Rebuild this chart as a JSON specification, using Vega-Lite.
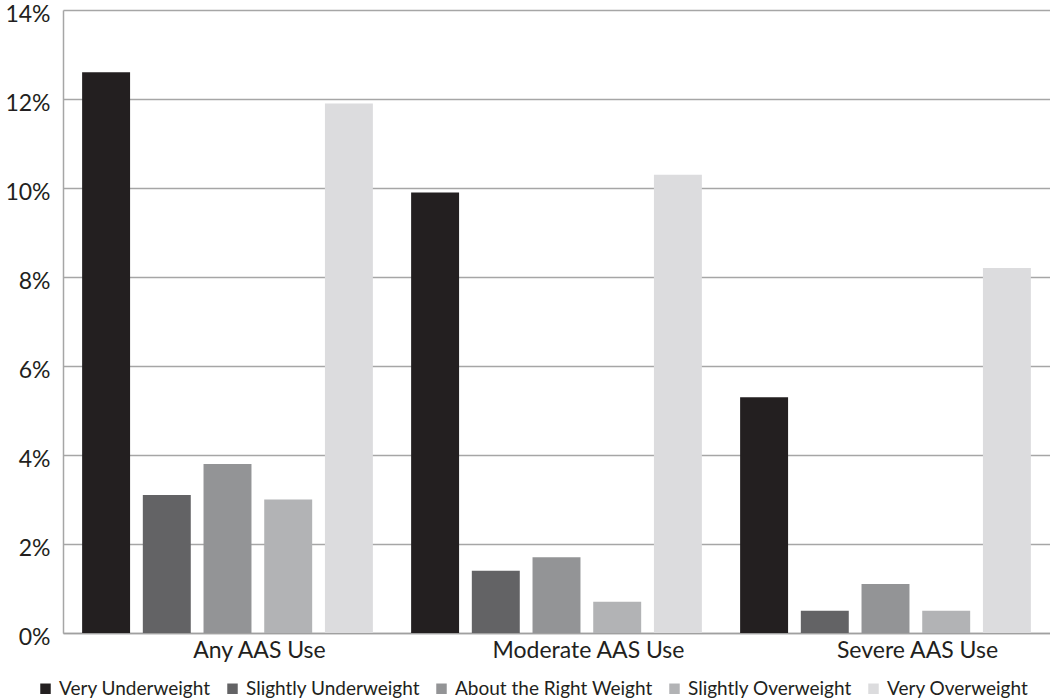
{
  "$schema": "https://vega.github.io/schema/vega-lite/v6.json",
  "width": 987,
  "height": 623,
  "autosize": {"type": "none"},
  "padding": {"left": 63, "top": 10, "right": 0, "bottom": 65},
  "config": {"view": {"stroke": null}, "font": "Lato"},
  "data": {
    "values": [
      {"use": "Any AAS Use", "weight": "Very Underweight", "pct": 12.6},
      {"use": "Any AAS Use", "weight": "Slightly Underweight", "pct": 3.1},
      {"use": "Any AAS Use", "weight": "About the Right Weight", "pct": 3.8},
      {"use": "Any AAS Use", "weight": "Slightly Overweight", "pct": 3.0},
      {"use": "Any AAS Use", "weight": "Very Overweight", "pct": 11.9},
      {"use": "Moderate AAS Use", "weight": "Very Underweight", "pct": 9.9},
      {"use": "Moderate AAS Use", "weight": "Slightly Underweight", "pct": 1.4},
      {"use": "Moderate AAS Use", "weight": "About the Right Weight", "pct": 1.7},
      {"use": "Moderate AAS Use", "weight": "Slightly Overweight", "pct": 0.7},
      {"use": "Moderate AAS Use", "weight": "Very Overweight", "pct": 10.3},
      {"use": "Severe AAS Use", "weight": "Very Underweight", "pct": 5.3},
      {"use": "Severe AAS Use", "weight": "Slightly Underweight", "pct": 0.5},
      {"use": "Severe AAS Use", "weight": "About the Right Weight", "pct": 1.1},
      {"use": "Severe AAS Use", "weight": "Slightly Overweight", "pct": 0.5},
      {"use": "Severe AAS Use", "weight": "Very Overweight", "pct": 8.2}
    ]
  },
  "mark": {"type": "bar"},
  "encoding": {
    "x": {
      "field": "use",
      "type": "nominal",
      "sort": ["Any AAS Use", "Moderate AAS Use", "Severe AAS Use"],
      "scale": {"paddingInner": 0, "paddingOuter": 0},
      "axis": {
        "title": null,
        "labelAngle": 0,
        "labelFontSize": 23,
        "labelLimit": 0,
        "labelColor": "#231f20",
        "ticks": false,
        "domain": true,
        "domainColor": "#a0a0a0",
        "domainWidth": 1.5,
        "labelPadding": 6,
        "labelOffset": 32
      }
    },
    "xOffset": {
      "field": "weight",
      "type": "nominal",
      "sort": ["Very Underweight", "Slightly Underweight", "About the Right Weight", "Slightly Overweight", "Very Overweight"],
      "scale": {"paddingInner": 0.21, "paddingOuter": 0.315}
    },
    "y": {
      "field": "pct",
      "type": "quantitative",
      "scale": {"domain": [0, 14], "nice": false},
      "axis": {
        "title": null,
        "values": [0, 2, 4, 6, 8, 10, 12, 14],
        "labelExpr": "datum.value + '%'",
        "ticks": false,
        "labelPadding": 13,
        "labelOffset": 4,
        "labelFontSize": 23,
        "labelColor": "#231f20",
        "gridColor": "#a6a6a6",
        "gridWidth": 1.5,
        "domainColor": "#a6a6a6",
        "domainWidth": 1.5
      }
    },
    "color": {
      "field": "weight",
      "type": "nominal",
      "scale": {
        "domain": ["Very Underweight", "Slightly Underweight", "About the Right Weight", "Slightly Overweight", "Very Overweight"],
        "range": ["#231f20", "#636365", "#939496", "#b2b3b5", "#dcdcde"]
      },
      "legend": {
        "title": null,
        "orient": "none",
        "legendX": -27,
        "legendY": 669,
        "direction": "horizontal",
        "columns": 5,
        "columnPadding": 12,
        "symbolType": "square",
        "symbolSize": 110,
        "symbolStrokeWidth": 0,
        "labelFontSize": 19,
        "labelLimit": 0,
        "labelColor": "#231f20",
        "labelOffset": 4
      }
    }
  }
}
